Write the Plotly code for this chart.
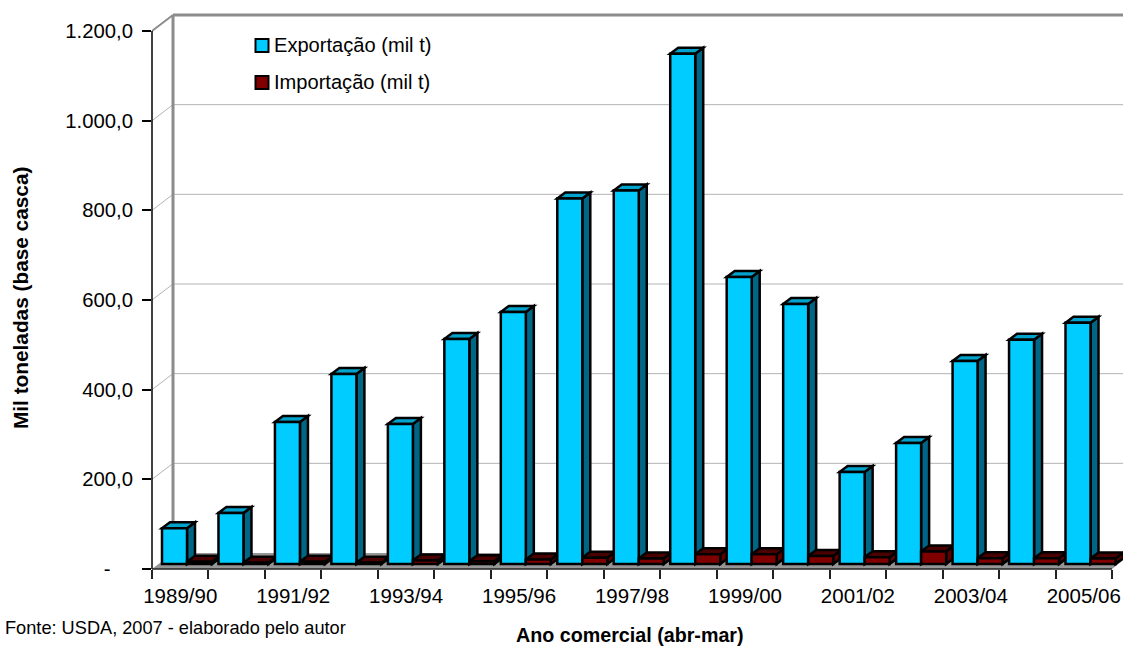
import plotly.graph_objects as go

categories = ["1989/90","1990/91","1991/92","1992/93","1993/94","1994/95","1995/96","1996/97","1997/98",
              "1998/99","1999/00","2000/01","2001/02","2002/03","2003/04","2004/05","2005/06"]
exportacao = [80,114,317,424,312,502,562,815,833,1138,640,580,205,270,453,500,538]
importacao = [5,3,5,3,8,6,10,14,12,22,22,18,15,28,13,13,12]
y_ticks = [0,200,400,600,800,1000,1200]
y_labels = ["-\u00a0\u00a0\u00a0\u00a0","200,0","400,0","600,0","800,0","1.000,0","1.200,0"]
series_names = ["Exportação (mil t)", "Importação (mil t)"]

PX_X = 56.47
PX_Y = 538/1200
wall_dx, wall_dy = 21/PX_X, 16/PX_Y
bar_dx, bar_dy = 8/PX_X, 6/PX_Y
base_y = 5/PX_Y
bar_w = 25/PX_X
off_e, off_i = 10/PX_X, 35/PX_X
n = len(categories)
XMAX = 971/PX_X
YMAX = 564/PX_Y
W, H = 1123, 646
ML, MT, MB = 152, 5, 77
PW, PH = W-ML, H-MT-MB
EDGE = 2.5

def poly(pts):
    return "M " + " L ".join(f"{x:.4f} {y:.3f}" for x, y in pts) + " Z"

def face(pts, fill):
    return dict(type="path", path=poly(pts), xref="x", yref="y", fillcolor=fill,
                line=dict(color="black", width=EDGE), layer="below")

def line(x0, y0, x1, y1, color, width, layer="below", xref="x"):
    return dict(type="line", x0=x0, y0=y0, x1=x1, y1=y1, xref=xref, yref="y",
                line=dict(color=color, width=width), layer=layer)

def px(x): return (x-ML)/PW
def py(y): return 1-(y-MT)/PH

shapes = []
shapes.append(dict(type="path", path=poly([(0,0),(n,0),(n+wall_dx,wall_dy),(wall_dx,wall_dy)]),
                   xref="x", yref="y", fillcolor="#969696", line=dict(width=0), layer="below"))
for t in y_ticks[1:-1]:
    shapes.append(line(wall_dx, t+wall_dy, XMAX, t+wall_dy, "#b4b4b4", 1))
    shapes.append(line(0, t, wall_dx, t+wall_dy, "#b4b4b4", 1))
top = y_ticks[-1]
shapes.append(line(wall_dx, wall_dy, wall_dx, top+wall_dy, "#8c8c8c", 3))
shapes.append(line(wall_dx, top+wall_dy, XMAX, top+wall_dy, "#8c8c8c", 3))
shapes.append(line(0, top, wall_dx, top+wall_dy, "#8c8c8c", 2))

def box(left, v, side, roof):
    l, r, b, t = left, left+bar_w, base_y, base_y+v
    return [face([(r,b),(r+bar_dx,b+bar_dy),(r+bar_dx,t+bar_dy),(r,t)], side),
            face([(l,t),(r,t),(r+bar_dx,t+bar_dy),(l+bar_dx,t+bar_dy)], roof)]

for i in range(n):
    shapes += box(i+off_e, exportacao[i], "#006685", "#00A3CC")
    shapes += box(i+off_i, importacao[i], "#5c0000", "#4a0000")

shapes.append(line(0, 0, 0, top, "black", 1.5, "above", "paper"))
shapes.append(dict(type="line", x0=0, x1=n, y0=0, y1=0, xref="x", yref="paper",
                   line=dict(color="#222222", width=1.5), layer="above"))

# legend swatches
for cy, col in [(45.5, "#00CCFF"), (82.5, "#800000")]:
    shapes.append(dict(type="rect", xref="paper", yref="paper", x0=px(255.5), x1=px(268.5),
                       y0=py(cy+6.5), y1=py(cy-6.5), fillcolor=col,
                       line=dict(color="black", width=2), layer="above"))

fig = go.Figure()
fig.add_bar(x=[i+off_e+bar_w/2 for i in range(n)], y=exportacao, base=base_y, width=bar_w,
            name=series_names[0], marker=dict(color="#00CCFF", line=dict(color="black", width=EDGE)))
fig.add_bar(x=[i+off_i+bar_w/2 for i in range(n)], y=importacao, base=base_y, width=bar_w,
            name=series_names[1], marker=dict(color="#800000", line=dict(color="black", width=EDGE)))

font = "Liberation Sans, Arial, sans-serif"
def note(text, x, y, size, anchor="center", angle=0):
    return dict(text=text, xref="paper", yref="paper", x=px(x), y=py(y), xanchor=anchor,
                yanchor="middle", textangle=angle, showarrow=False, font=dict(size=size),
                borderpad=0, borderwidth=0)

fig.update_layout(
    width=W, height=H, margin=dict(l=ML, r=0, t=MT, b=MB),
    paper_bgcolor="white", plot_bgcolor="white", barmode="overlay", shapes=shapes, showlegend=False,
    font=dict(family=font, size=20.5, color="black"),
    xaxis=dict(range=[0, XMAX], tickmode="array",
               tickvals=[i+0.5 for i in range(0, n, 2)], ticktext=categories[0::2],
               ticks="", showgrid=False, zeroline=False, showline=False,
               ticklabelstandoff=12, tickfont=dict(size=20.5),
               minor=dict(tickmode="array", tickvals=list(range(n+1)), ticks="outside",
                          ticklen=9, tickcolor="#222222", tickwidth=1.5, showgrid=False)),
    yaxis=dict(range=[0, YMAX], tickmode="array", tickvals=y_ticks, ticktext=y_labels,
               ticks="outside", ticklen=9, tickcolor="black", tickwidth=1.5,
               tickfont=dict(size=20.3),
               showgrid=False, zeroline=False, showline=False, ticklabelstandoff=5),
    annotations=[
        note("<b>Mil toneladas (base casca)</b>", 21, 298, 20.8, angle=-90),
        note("<b>Ano comercial (abr-mar)</b>", 630, 634.5, 19.7),
        note("Fonte: USDA, 2007 - elaborado pelo autor", 5, 628, 18.2, anchor="left"),
        note(series_names[0], 274, 45, 20.1, anchor="left"),
        note(series_names[1], 274, 82, 20.1, anchor="left"),
    ],
)
fig.write_html("out.html", config={"displayModeBar": False},
               post_script="document.body.style.margin='0';document.documentElement.style.overflow='hidden';")
